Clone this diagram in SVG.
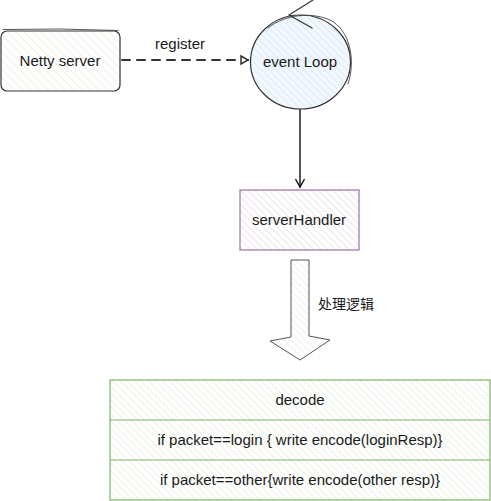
<svg xmlns="http://www.w3.org/2000/svg" width="491" height="501" viewBox="0 0 491 501">
<style>
text{font-family:"Liberation Sans",Arial,"Noto Sans CJK SC",sans-serif;font-size:15px;fill:#1a1a1a;text-anchor:middle}
.sk{fill:none;stroke-linecap:round;stroke-linejoin:round}
</style>
<defs>
<pattern id="hBeige" width="6" height="6" patternUnits="userSpaceOnUse" patternTransform="rotate(-45)"><rect width="6" height="6" fill="#fff"/><line x1="0" y1="0" x2="0" y2="6" stroke="#f1f1e6" stroke-width="2"/></pattern>
<pattern id="hBlue" width="5" height="5" patternUnits="userSpaceOnUse" patternTransform="rotate(-45)"><rect width="5" height="5" fill="#f3f8ff"/><line x1="0" y1="0" x2="0" y2="5" stroke="#d5e6fb" stroke-width="1.6"/></pattern>
<pattern id="hPurple" width="5" height="5" patternUnits="userSpaceOnUse" patternTransform="rotate(-45)"><rect width="5" height="5" fill="#fff"/><line x1="0" y1="0" x2="0" y2="5" stroke="#e8dcea" stroke-width="1.5"/></pattern>
<pattern id="hGrey" width="5" height="5" patternUnits="userSpaceOnUse" patternTransform="rotate(-45)"><rect width="5" height="5" fill="#fff"/><line x1="0" y1="0" x2="0" y2="5" stroke="#ececec" stroke-width="1.5"/></pattern>
<pattern id="hGreen" width="5" height="5" patternUnits="userSpaceOnUse" patternTransform="rotate(-45)"><rect width="5" height="5" fill="#fff"/><line x1="0" y1="0" x2="0" y2="5" stroke="#e2efdb" stroke-width="1.5"/></pattern>
<marker id="openArr" markerWidth="10" markerHeight="10" refX="8" refY="5" orient="auto" markerUnits="userSpaceOnUse"><path d="M1,1 L8,5 L1,9 Z" fill="#fff" stroke="#333" stroke-width="1.5"/></marker>
<marker id="lineArr" markerWidth="12" markerHeight="12" refX="9" refY="6" orient="auto" markerUnits="userSpaceOnUse"><path d="M1,1.5 L9,6 L1,10.5" fill="none" stroke="#111" stroke-width="1.4"/></marker>
</defs>

<g id="connectors">
<path d="M122,60 L248,60" class="sk" stroke="#333" stroke-width="2" stroke-dasharray="8,7" marker-end="url(#openArr)"/>
<text x="180" y="49">register</text>
<path d="M300,109 L300,187" class="sk" stroke="#111" stroke-width="1.4" marker-end="url(#lineArr)"/>
</g>

<g id="netty-server">
<rect x="1" y="31" width="119" height="60" rx="6" fill="url(#hBeige)" stroke="#333" stroke-width="1.2"/>
<path d="M3,29.5 Q60,28 118,30.5" class="sk" stroke="#444" stroke-width="0.9"/>
<text x="60" y="66">Netty server</text>
</g>

<g id="event-loop">
<ellipse cx="300.5" cy="62" rx="50" ry="47" fill="url(#hBlue)" stroke="#333" stroke-width="1.2"/>
<path d="M268,28 C285,14 312,12 330,20 C350,30 356,60 348,84" class="sk" stroke="#444" stroke-width="0.9"/>
<path d="M289,15 L313,0 M289,15 L312,28" class="sk" stroke="#333" stroke-width="1.2"/>
<text x="300" y="67">event Loop</text>
</g>

<g id="server-handler">
<rect x="240" y="190" width="119" height="60" fill="url(#hPurple)" stroke="#9673a6" stroke-width="1.2"/>
<text x="299" y="225">serverHandler</text>
</g>

<g id="process-arrow">
<path d="M291,260 L309,260 L309,336 L330,340 L300,360 L270,341 L291,337 Z" fill="url(#hGrey)" stroke="#555" stroke-width="1" stroke-linejoin="round"/>
<text x="346" y="309" style="font-size:14px">处理逻辑</text>
</g>

<g id="logic-table">
<rect x="110" y="380" width="380" height="120" fill="url(#hGreen)" stroke="#82b366" stroke-width="1.2"/>
<line x1="110" y1="420" x2="490" y2="420" stroke="#82b366" stroke-width="1.2"/>
<line x1="110" y1="460" x2="490" y2="460" stroke="#82b366" stroke-width="1.2"/>
<text x="300" y="405">decode</text>
<text x="300" y="445">if packet==login { write encode(loginResp)}</text>
<text x="300" y="485">if packet==other{write encode(other resp)}</text>
</g>
</svg>
